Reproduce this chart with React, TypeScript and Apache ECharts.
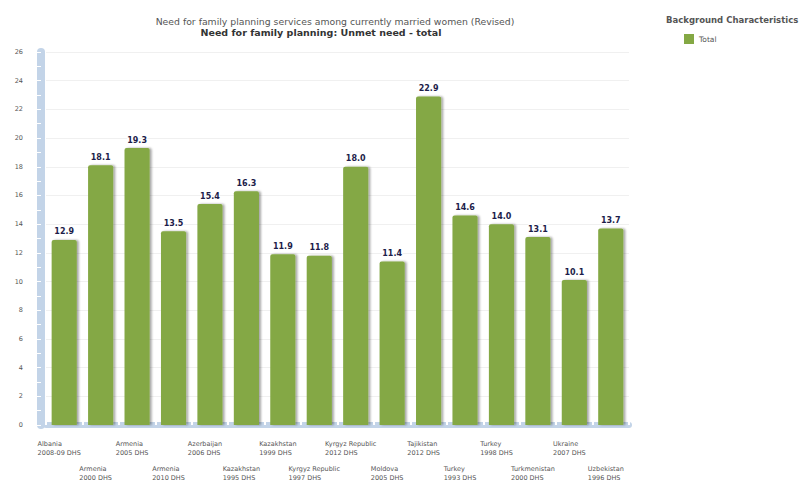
import React, { useEffect, useRef } from "react";
import * as echarts from "echarts";

const countries = [
  "Albania", "Armenia", "Armenia", "Armenia", "Azerbaijan", "Kazakhstan", "Kazakhstan", "Kyrgyz Republic",
  "Kyrgyz Republic", "Moldova", "Tajikistan", "Turkey", "Turkey", "Turkmenistan", "Ukraine", "Uzbekistan",
];
const surveys = [
  "2008-09 DHS", "2000 DHS", "2005 DHS", "2010 DHS", "2006 DHS", "1995 DHS", "1999 DHS", "1997 DHS",
  "2012 DHS", "2005 DHS", "2012 DHS", "1993 DHS", "1998 DHS", "2000 DHS", "2007 DHS", "1996 DHS",
];
const totalValues = [12.9, 18.1, 19.3, 13.5, 15.4, 16.3, 11.9, 11.8, 18.0, 11.4, 22.9, 14.6, 14.0, 13.1, 10.1, 13.7];
const seriesName = "Total";

const WIDE = "'DejaVu Sans', Verdana, sans-serif";

export default function App() {
  const ref = useRef<HTMLDivElement>(null);
  useEffect(() => {
    if (!ref.current) return;
    const chart = echarts.init(ref.current, null, { renderer: "svg" });
    const categories = countries.map((c, i) => c + "\n" + surveys[i]);
    chart.setOption({
      animation: false,
      backgroundColor: "#ffffff",
      textStyle: { fontFamily: WIDE },
      title: [
        {
          text: "Need for family planning services among currently married women (Revised)",
          left: 330,
          textAlign: "center",
          top: 12,
          textStyle: { fontSize: 9.3, fontWeight: "normal", color: "#555555", fontFamily: WIDE },
        },
        {
          text: "Need for family planning: Unmet need - total",
          left: 316,
          textAlign: "center",
          top: 22,
          textStyle: { fontSize: 9.5, fontWeight: "bold", color: "#333333", fontFamily: WIDE },
        },
        {
          text: "Background Characteristics",
          left: 661,
          top: 10,
          textStyle: { fontSize: 8.5, fontWeight: "bold", color: "#555555", fontFamily: WIDE },
        },
      ],
      legend: {
        left: 679,
        top: 29,
        orient: "vertical",
        itemWidth: 10,
        itemHeight: 10,
        itemGap: 4,
        icon: "rect",
        textStyle: { fontSize: 7.5, color: "#555555", fontFamily: WIDE },
        data: [seriesName],
      },
      grid: { left: 46, right: 170, top: 52, bottom: 58 },
      xAxis: {
        type: "category",
        data: categories,
        offset: 4,
        axisLine: { lineStyle: { color: "#c3d4e8", width: 6 } },
        axisTick: { show: true, inside: true, length: 4, lineStyle: { color: "#ffffff", width: 2 } },
        axisLabel: {
          interval: 0,
          fontSize: 6.5,
          color: "#555555",
          margin: 10,
          formatter: (v: string, i: number) => {
            const [a, b] = v.split("\n");
            return i % 2 === 0 ? `{t|${a}}\n{t|${b}}` : `{s|}\n{t|${a}}\n{t|${b}}`;
          },
          rich: {
            t: { fontSize: 6.5, color: "#555555", lineHeight: 9, fontFamily: WIDE, align: "left", padding: [0, 10, 0, 0] },
            s: { fontSize: 6.5, lineHeight: 25 },
          },
        },
        splitLine: { show: false },
      },
      yAxis: {
        type: "value",
        min: 0,
        max: 26,
        interval: 2,
        offset: 5,
        axisLine: { show: true, lineStyle: { color: "#c3d4e8", width: 8 } },
        axisTick: { show: true, length: 4, lineStyle: { color: "#ffffff", width: 1 } },
        minorTick: { show: true, splitNumber: 2, length: 4, lineStyle: { color: "#ffffff", width: 1 } },
        axisLabel: { fontSize: 6.5, color: "#555555", margin: 18, fontFamily: WIDE },
        splitLine: { lineStyle: { color: "#f0f0f0", width: 1 } },
      },
      series: [
        {
          name: seriesName,
          type: "bar",
          data: totalValues,
          barWidth: "69%",
          itemStyle: {
            color: "#84a844",
            borderRadius: [2, 2, 0, 0],
            shadowColor: "rgba(0,0,0,0.35)",
            shadowOffsetX: 2,
            shadowOffsetY: 0,
            shadowBlur: 2,
          },
          label: {
            show: true,
            position: "top",
            distance: 4,
            fontSize: 8,
            fontWeight: "bold",
            fontFamily: WIDE,
            color: "#1d1d4a",
            textBorderColor: "#ffffff",
            textBorderWidth: 2,
            formatter: (p: any) => Number(p.value).toFixed(1),
          },
        },
      ],
    });
    return () => chart.dispose();
  }, []);
  return <div ref={ref} style={{ width: 799, height: 483, position: "absolute", left: 0, top: 0 }} />;
}
